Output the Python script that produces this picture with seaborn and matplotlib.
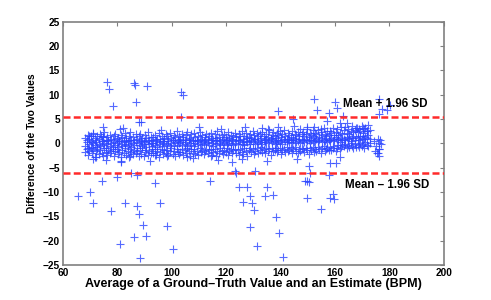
import matplotlib
matplotlib.use("Agg")
import matplotlib.pyplot as plt
import numpy as np
import pandas as pd
import seaborn as sns

# Bland-Altman plot: mean of ground truth and estimate vs. their difference

# dense band, one x list shared by three y lists (upper / middle / lower part of the band)
band_x = [
    68.3, 68.8, 69.2, 69.7, 70.3, 70.8, 71.2, 71.7, 72.3, 72.7,
    73.2, 73.8, 74.3, 74.7, 75.2, 75.8, 76.3, 76.7, 77.2, 77.8,
    78.3, 78.7, 79.2, 79.8, 80.3, 80.7, 81.2, 81.8, 82.3, 82.7,
    83.2, 83.8, 84.3, 84.7, 85.2, 85.8, 86.3, 86.7, 87.2, 87.8,
    88.3, 88.7, 89.2, 89.8, 90.3, 90.7, 91.2, 91.8, 92.3, 92.7,
    93.2, 93.8, 94.3, 94.7, 95.2, 95.8, 96.3, 96.7, 97.2, 97.8,
    98.3, 98.7, 99.2, 99.8, 100.3, 100.7, 101.2, 101.8, 102.3, 102.7,
    103.2, 103.8, 104.3, 104.7, 105.2, 105.8, 106.3, 106.7, 107.2, 107.8,
    108.3, 108.7, 109.2, 109.8, 110.3, 110.7, 111.2, 111.8, 112.3, 112.7,
    113.2, 113.8, 114.3, 114.7, 115.2, 115.8, 116.3, 116.7, 117.2, 117.8,
    118.3, 118.7, 119.2, 119.8, 120.3, 120.7, 121.2, 121.8, 122.3, 122.7,
    123.2, 123.8, 124.3, 124.7, 125.2, 125.8, 126.3, 126.7, 127.2, 127.8,
    128.3, 128.7, 129.2, 129.8, 130.3, 130.7, 131.2, 131.8, 132.3, 132.7,
    133.2, 133.8, 134.3, 134.7, 135.2, 135.8, 136.3, 136.7, 137.2, 137.8,
    138.3, 138.7, 139.2, 139.8, 140.3, 140.7, 141.2, 141.8, 142.3, 142.7,
    143.2, 143.8, 144.3, 144.7, 145.2, 145.8, 146.3, 146.7, 147.2, 147.8,
    148.3, 148.7, 149.2, 149.8, 150.3, 150.7, 151.2, 151.8, 152.3, 152.7,
    153.2, 153.8, 154.3, 154.7, 155.2, 155.8, 156.3, 156.7, 157.2, 157.8,
    158.3, 158.7, 159.2, 159.8, 160.3, 160.7, 161.2, 161.8, 162.3, 162.7,
    163.2, 163.8, 164.3, 164.7, 165.2, 165.8, 166.3, 166.7, 167.2, 167.8,
    168.3, 168.7, 169.2, 169.8, 170.3, 170.7, 171.2, 171.8, 172.3, 172.7,
]
band_hi = [
    1.2, 0.6, 1.8, 0.9, 1.5, 0.3, 2.1, 1.1, 0.7, 1.6,
    0.9, 1.9, 0.5, 1.3, 2.3, 0.8, 1.4, 0.4, 1.7, 1.0,
    0.6, 1.5, 2.0, 0.9, 1.2, 0.5, 1.8, 1.3, 0.7, 2.2,
    1.1, 0.4, 1.6, 2.4, 0.8, 1.3, 0.6, 1.9, 1.0, 1.5,
    2.0, 0.7, 1.2, 0.5, 1.7, 1.1, 2.3, 0.8, 1.4, 0.6,
    1.3, 1.8, 0.5, 1.0, 2.1, 0.9, 1.5, 0.4, 1.2, 1.9,
    1.6, 0.9, 2.2, 1.1, 0.7, 1.8, 1.3, 2.5, 0.8, 1.5,
    1.0, 2.0, 1.4, 0.6, 1.7, 2.3, 0.9, 1.2, 1.9, 0.7,
    2.1, 1.3, 0.8, 1.6, 2.4, 1.0, 1.8, 0.5, 1.4, 2.0,
    0.9, 1.5, 2.2, 1.2, 0.7, 1.9, 1.1, 2.6, 1.4, 0.8,
    1.7, 1.0, 2.0, 1.4, 0.6, 2.3, 1.2, 1.8, 0.9, 1.5,
    2.1, 1.3, 0.8, 1.9, 1.5, 2.5, 1.0, 1.6, 2.2, 1.2,
    1.4, 2.0, 1.1, 2.6, 1.7, 0.9, 2.2, 1.5, 1.9, 1.2,
    2.3, 1.6, 1.0, 2.0, 1.4, 2.7, 1.2, 1.8, 2.4, 1.5,
    1.1, 2.1, 1.7, 2.5, 1.3, 1.9, 2.8, 1.6, 1.0, 2.2,
    1.8, 1.4, 2.6, 1.2, 2.0, 1.7, 2.3, 1.5, 2.9, 1.9,
    2.4, 1.6, 2.0, 3.0, 1.3, 2.2, 1.8, 2.7, 1.5, 2.1,
    1.9, 2.8, 1.4, 2.3, 1.7, 3.1, 2.0, 1.6, 2.5, 1.8,
    2.6, 2.1, 3.2, 1.8, 2.4, 2.9, 1.7, 2.2, 3.4, 2.0,
    2.7, 3.3, 2.2, 3.0, 1.9, 2.5, 3.6, 2.3, 2.8, 3.1,
    2.4, 3.0, 2.6, 3.5, 2.1, 2.9, 3.2, 2.5, 3.8, 2.8,
]
band_mid = [
    -0.5, 0.2, -0.9, -0.2, 0.4, -0.7, 0.0, -0.4, 0.3, -0.8,
    -0.1, -0.6, 0.5, -0.3, 0.1, -0.9, -0.2, 0.6, -0.5, 0.0,
    -0.7, 0.3, -0.4, 0.1, -0.8, 0.5, -0.2, -0.6, 0.2, -0.3,
    0.4, -0.5, -0.1, 0.6, -0.7, 0.0, -0.4, 0.3, -0.9, 0.1,
    -0.3, 0.5, -0.6, -0.1, 0.2, -0.8, 0.4, -0.2, 0.0, -0.5,
    0.1, -0.4, 0.6, -0.7, -0.2, 0.3, -0.5, 0.0, 0.5, -0.3,
    -0.2, 0.4, -0.6, 0.1, 0.7, -0.3, 0.2, -0.5, 0.5, 0.0,
    0.3, -0.4, 0.6, -0.1, 0.2, -0.6, 0.8, 0.0, -0.3, 0.4,
    -0.5, 0.1, 0.5, -0.2, 0.7, -0.4, 0.3, -0.1, 0.6, 0.0,
    0.2, -0.3, 0.6, 0.0, -0.5, 0.4, -0.1, 0.8, 0.1, -0.4,
    0.5, -0.2, 0.3, 0.7, -0.4, 0.1, 0.6, -0.1, 0.4, -0.3,
    0.0, 0.6, -0.2, 0.4, 0.8, -0.1, 0.3, -0.4, 0.5, 0.2,
    0.4, -0.1, 0.7, 0.2, 0.9, -0.2, 0.5, 0.1, 0.6, 0.3,
    -0.1, 0.6, 0.3, 0.8, 0.0, 0.5, 1.0, 0.2, 0.7, -0.2,
    0.5, 0.1, 0.8, 0.3, 0.6, -0.1, 0.9, 0.4, 0.2, 0.7,
    0.3, 0.8, 0.0, 0.6, 1.0, 0.2, 0.5, 0.9, 0.1, 0.7,
    0.6, 0.2, 1.0, 0.4, 0.8, 0.0, 0.7, 1.1, 0.3, 0.5,
    0.9, 0.4, 0.7, 1.2, 0.2, 0.8, 0.5, 1.0, 0.3, 0.6,
    0.7, 1.1, 0.4, 0.9, 1.3, 0.6, 1.0, 0.3, 1.2, 0.8,
    1.0, 0.6, 1.4, 0.9, 1.2, 0.5, 1.1, 1.5, 0.8, 1.3,
    1.2, 0.8, 1.5, 1.0, 1.6, 0.9, 1.3, 1.1, 1.7, 1.0,
]
band_lo = [
    -1.8, -1.2, -2.4, -1.5, -0.9, -2.0, -1.3, -2.7, -1.6, -1.1,
    -2.2, -1.4, -1.9, -2.6, -1.0, -1.7, -2.3, -1.3, -2.0, -1.5,
    -1.1, -2.5, -1.6, -1.2, -2.1, -1.8, -2.9, -1.4, -1.9, -1.0,
    -2.3, -1.5, -2.8, -1.1, -1.7, -2.2, -1.3, -2.0, -1.6, -2.5,
    -1.4, -2.1, -1.0, -2.6, -1.8, -1.3, -2.4, -1.6, -2.0, -1.2,
    -1.9, -1.1, -2.3, -1.5, -2.7, -1.7, -1.2, -2.2, -1.4, -2.0,
    -1.3, -2.4, -1.6, -1.0, -2.1, -1.5, -2.6, -1.2, -1.8, -2.2,
    -1.7, -1.1, -2.3, -1.4, -2.0, -1.0, -1.6, -2.5, -1.2, -1.9,
    -1.2, -2.1, -1.5, -2.4, -1.0, -1.8, -1.3, -2.2, -1.6, -1.1,
    -2.0, -1.4, -1.1, -2.3, -1.7, -1.2, -2.6, -1.5, -1.9, -1.0,
    -1.5, -2.2, -1.3, -1.8, -1.0, -2.4, -1.6, -1.1, -2.0, -1.4,
    -1.1, -1.9, -1.4, -2.3, -1.2, -1.7, -2.1, -1.0, -1.6, -2.5,
    -1.3, -0.9, -1.8, -1.2, -2.2, -1.5, -1.0, -1.9, -1.4, -0.8,
    -1.7, -1.1, -2.0, -0.9, -1.5, -1.2, -2.3, -1.0, -1.6, -1.3,
    -0.9, -1.8, -1.3, -1.0, -2.1, -1.4, -1.1, -1.7, -0.8, -1.5,
    -1.4, -1.0, -1.9, -1.2, -0.8, -1.6, -2.0, -1.1, -1.5, -0.9,
    -1.1, -1.7, -0.9, -1.4, -2.2, -1.0, -1.3, -0.7, -1.8, -1.2,
    -1.5, -0.8, -1.2, -1.9, -1.0, -0.6, -1.6, -1.1, -0.9, -1.4,
    -0.7, -1.3, -0.9, -0.5, -1.5, -1.0, -0.4, -1.2, -0.8, -0.3,
    -0.6, -0.2, -1.0, -0.4, -0.8, 0.0, -0.5, -0.9, -0.1, -0.7,
    -0.3, -0.8, 0.1, -0.5, -0.2, -0.9, 0.2, -0.4, -0.6, 0.0,
]

# scattered points around and outside the band
upper_x = [76.1, 76.8, 86.1, 86.6, 91.0, 78.5, 86.8, 103.5, 104.0, 87.8, 88.8, 74.6, 81.0,
           103.3, 69.7, 70.9, 73.9, 74.7, 152.3, 139.0, 153.5, 144.4, 139.0, 135.4, 149.6,
           152.3, 157.0, 159.9, 160.6, 176.1, 179.0, 180.2, 176.3, 177.3, 157.9, 163.0, 161.8,
           164.3, 168.0, 170.4, 171.7, 82.0, 96.0, 110.0, 118.0, 127.0, 133.0, 145.0, 155.0]
upper_y = [12.7, 11.2, 12.4, 12.0, 11.8, 7.6, 8.6, 10.5, 9.9, 4.5, 4.4, 3.3, 3.0,
           5.4, 1.5, 2.0, 1.5, 1.6, 9.2, 6.6, 6.8, 5.1, 3.4, 3.0, 3.4,
           3.4, 4.6, 8.6, 7.3, 9.2, 6.8, 8.0, 6.0, 7.0, 6.3, 5.6, 4.2,
           4.2, 3.2, 3.2, 2.5, 3.2, 2.8, 3.3, 3.0, 3.4, 3.1, 3.6, 2.9]
tail_x = [176.5, 176.1, 174.5, 175.2, 176.0, 175.5, 176.8, 174.8, 176.3, 175.9, 175.9, 176.3]
tail_y = [0.8, 0.1, 0.5, -0.5, -1.2, -2.0, -0.2, -1.6, -2.6, 1.0, -1.9, -1.2]
lower_x = [65.6, 69.9, 70.9, 74.3, 77.8, 80.0, 81.0, 82.7, 81.2, 84.9, 86.1, 87.3, 87.8,
           88.3, 89.3, 90.5, 87.1, 93.9, 95.7, 98.1, 100.6, 71.1, 72.1, 84.6, 93.8, 98.1,
           105.5, 114.0, 123.2, 123.8, 130.7, 124.8, 127.5, 128.8, 126.3, 129.5, 130.2, 135.1,
           134.4, 137.1, 138.3, 128.8, 139.5, 131.2, 141.0, 149.6, 148.8, 150.3, 149.6, 150.8,
           150.3, 155.0, 114.3, 122.0, 159.1, 159.6, 158.2, 157.7, 158.2, 160.4, 81.3, 76.0,
           92.0, 108.0, 117.0, 126.0, 135.0, 146.0, 162.0]
lower_y = [-10.9, -10.1, -12.3, -7.8, -14.0, -7.0, -20.6, -12.3, -3.8, -6.0, -19.2, -12.9, -14.6,
           -23.5, -16.7, -19.0, -6.6, -8.1, -12.3, -17.0, -21.8, -3.3, -2.9, -2.5, -2.3, -2.6,
           -2.9, -7.8, -5.7, -6.0, -5.7, -9.0, -9.0, -10.9, -12.0, -12.2, -13.7, -9.0,
           -10.8, -10.7, -15.1, -17.1, -18.5, -21.2, -23.4, -7.8, -7.7, -8.0, -11.2, -6.0,
           -4.7, -13.4, -2.6, -3.8, -10.5, -11.5, -11.2, -6.4, -4.0, -4.0, -3.6, -3.5,
           -3.6, -3.1, -3.4, -3.2, -3.7, -3.3, -2.8]

upper_limit = 5.4   # mean + 1.96 SD
lower_limit = -6.0  # mean - 1.96 SD

x_ticks = [60, 80, 100, 120, 140, 160, 180, 200]
y_ticks = [-25, -20, -15, -10, -5, 0, 5, 10, 15, 20, 25]

assert len(band_x) == len(band_hi) == len(band_mid) == len(band_lo)
assert len(upper_x) == len(upper_y) and len(lower_x) == len(lower_y) and len(tail_x) == len(tail_y)

df = pd.DataFrame({
    "avg": band_x * 3 + upper_x + tail_x + lower_x,
    "diff": band_hi + band_mid + band_lo + upper_y + tail_y + lower_y,
})

sns.set_style("white")
plt.rcParams["font.family"] = ["Liberation Sans", "DejaVu Sans"]
plt.rcParams["text.color"] = "black"
plt.rcParams["axes.labelcolor"] = "black"
plt.rcParams["xtick.color"] = "black"
plt.rcParams["ytick.color"] = "black"

fig = plt.figure(figsize=(4.91, 3.0), dpi=100)
ax = fig.add_axes([0.128, 0.117, 0.776, 0.81])

sns.scatterplot(data=df, x="avg", y="diff", marker="+", s=28, color="#2a45ff",
                linewidth=0.8, alpha=0.8, ax=ax, zorder=2)

ax.axhline(upper_limit, color="#ff2a2a", linestyle=(0, (2.8, 1.3)), linewidth=1.8, zorder=3)
ax.axhline(lower_limit, color="#ff2a2a", linestyle=(0, (2.8, 1.3)), linewidth=1.8, zorder=3)
ax.text(163, 8.2, "Mean + 1.96 SD", fontsize=8.3, fontweight="bold", va="center", ha="left")
ax.text(163.7, -8.6, "Mean \u2013 1.96 SD", fontsize=8.3, fontweight="bold", va="center", ha="left")

ax.set_xlim(60, 200)
ax.set_ylim(-25, 25)
ax.set_xticks(x_ticks)
ax.set_yticks(y_ticks)
ax.set_xticklabels([str(t) for t in x_ticks])
ax.set_yticklabels([str(t).replace("-", "\u2212") for t in y_ticks])
ax.tick_params(direction="in", length=3, width=0.8, color="#808080", labelcolor="black",
               top=True, right=True, labelsize=7.3, pad=2)
for lab in ax.get_xticklabels() + ax.get_yticklabels():
    lab.set_fontweight("bold")
for sp in ax.spines.values():
    sp.set_color("#808080")
    sp.set_linewidth(1.2)

ax.set_xlabel("Average of a Ground\u2013Truth Value and an Estimate (BPM)", fontsize=9,
              fontweight="bold", labelpad=0)
ax.set_ylabel("Difference of the Two Values", fontsize=7.4, fontweight="bold", labelpad=4)

fig.savefig("out.png", dpi=100)
